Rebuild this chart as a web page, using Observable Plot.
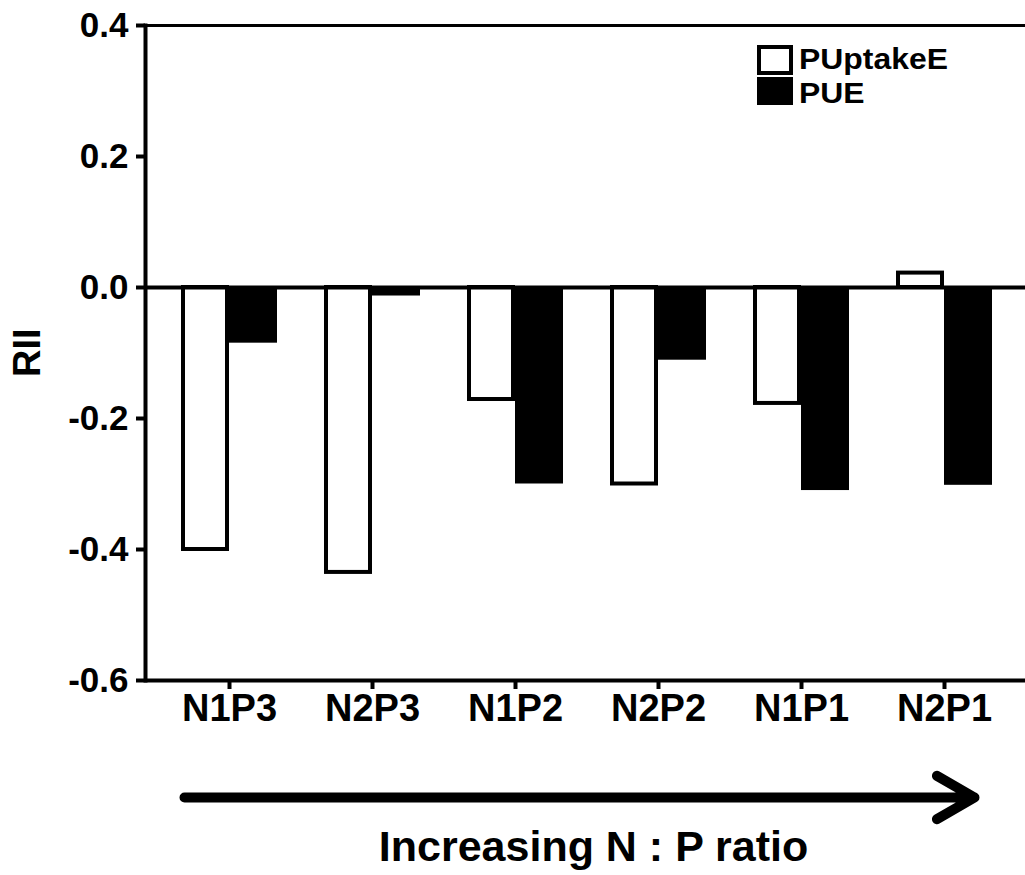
<!DOCTYPE html>
<html>
<head>
<meta charset="utf-8">
<script src="https://cdn.jsdelivr.net/npm/d3@7"></script>
<script src="https://cdn.jsdelivr.net/npm/@observablehq/plot@0.6"></script>
<style>
  html, body { margin: 0; padding: 0; background: white; }
  #wrap { position: relative; width: 1025px; height: 875px; font-family: 'Liberation Sans', Arial, sans-serif; font-weight: bold; color: black; }
  .lg-box { position: absolute; box-sizing: border-box; }
  .lg-text { position: absolute; font-size: 29px; font-weight: bold; line-height: 1.15; white-space: nowrap; transform: scaleX(1.1); transform-origin: left center; }
</style>
</head>
<body>
<div id="wrap"></div>
<script>
const categories = ["N1P3", "N2P3", "N1P2", "N2P2", "N1P1", "N2P1"];
const seriesNames = ["PUptakeE", "PUE"];
const puptakeE = [-0.40, -0.435, -0.171, -0.30, -0.177, 0.022];
const pue = [-0.085, -0.013, -0.30, -0.111, -0.31, -0.302];
const yTicks = [0.4, 0.2, 0.0, -0.2, -0.4, -0.6];
const yLabel = "RII";
const caption = "Increasing N : P ratio";

const rows = categories.map((c, i) => ({category: c, PUptakeE: puptakeE[i], PUE: pue[i]}));

const chart = Plot.plot({
  width: 1025,
  height: 875,
  marginLeft: 145,
  marginRight: 0,
  marginTop: 25,
  marginBottom: 195,
  style: {fontFamily: "'Liberation Sans', Arial, sans-serif", fontWeight: "bold", color: "black", background: "white", overflow: "visible"},
  x: {domain: categories, paddingInner: 0.664, paddingOuter: 0.39, insetLeft: 4, axis: null},
  y: {domain: [-0.6, 0.4], axis: null},
  marks: [
    Plot.barY(rows, {x: "category", y: "PUptakeE", dx: -24, fill: "white", stroke: "black", strokeWidth: 4, insetLeft: 2, insetRight: 2}),
    Plot.barY(rows, {x: "category", y: "PUE", dx: 24, fill: "black"}),
    Plot.ruleY([0.4], {stroke: "black", strokeWidth: 3}),
    Plot.ruleY([0], {stroke: "black", strokeWidth: 4}),
    Plot.ruleY([-0.6], {stroke: "black", strokeWidth: 4}),
    Plot.frame({anchor: "left", stroke: "black", strokeWidth: 4}),
    Plot.axisY(yTicks, {tickFormat: d => d.toFixed(1), tickSize: 9, tickPadding: 8, fontSize: 35, strokeWidth: 4, label: null}),
    Plot.axisX({tickSize: 9, tickPadding: 5, fontSize: 38, strokeWidth: 4, label: null}),
    Plot.text([yLabel], {frameAnchor: "left", rotate: -90, dx: -118, dy: 24, fontSize: 38, fontWeight: "bold", fill: "black"}),
    Plot.arrow([{a: categories[0], b: categories[categories.length - 1]}], {
      x1: "a", x2: "b", y1: () => -0.6, y2: () => -0.6, dy: 117,
      insetStart: -45, insetEnd: -30, stroke: "black", strokeWidth: 10, headLength: 6.5, headAngle: 60, strokeLinecap: "round"
    }),
    Plot.text([caption], {frameAnchor: "bottom", dy: 180, dx: 8, fontSize: 43, fontWeight: "bold", fill: "black"})
  ]
});
const wrap = document.getElementById("wrap");
wrap.appendChild(chart);

// legend overlay
const legend = [
  {name: seriesNames[0], left: 757, top: 45, w: 36, h: 30, bg: "white", border: "4px solid black", tx: 799, ty: 43},
  {name: seriesNames[1], left: 757, top: 77, w: 36, h: 28, bg: "black", border: "none", tx: 799, ty: 77}
];
for (const l of legend) {
  const b = document.createElement("div");
  b.className = "lg-box";
  Object.assign(b.style, {left: l.left + "px", top: l.top + "px", width: l.w + "px", height: l.h + "px", background: l.bg, border: l.border});
  wrap.appendChild(b);
  const t = document.createElement("div");
  t.className = "lg-text";
  t.textContent = l.name;
  Object.assign(t.style, {left: l.tx + "px", top: l.ty + "px"});
  wrap.appendChild(t);
}
</script>
</body>
</html>
